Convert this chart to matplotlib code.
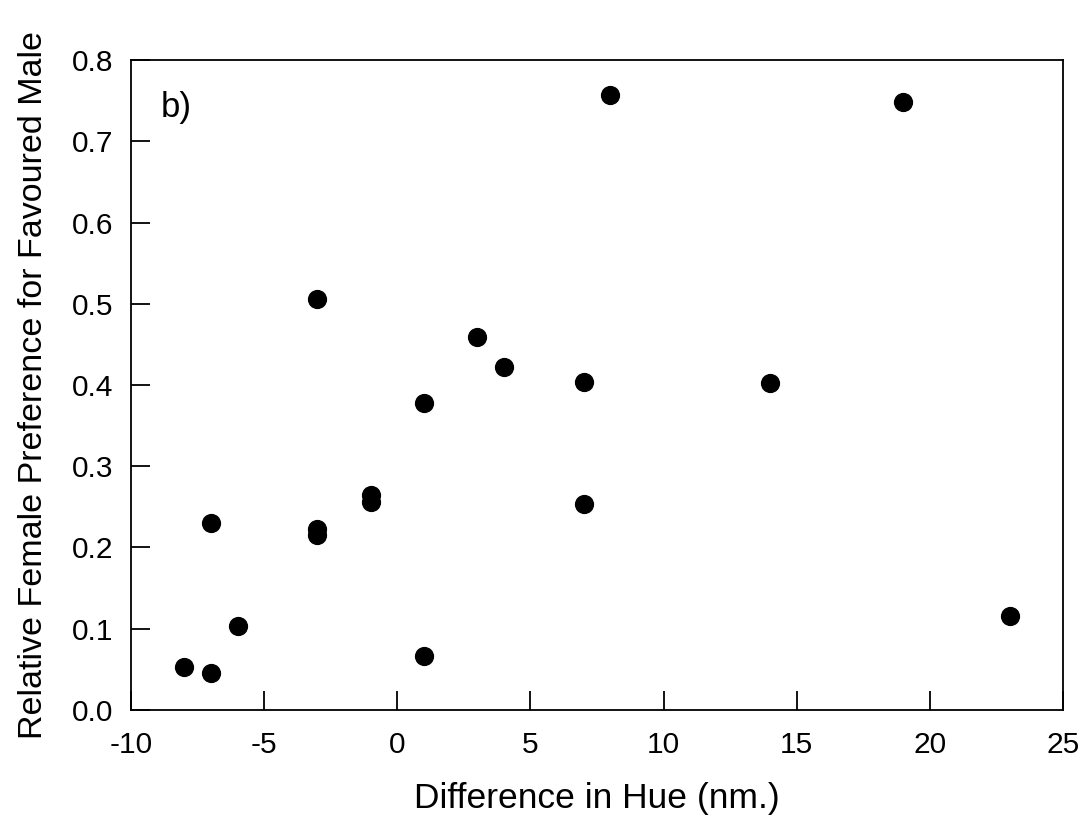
import matplotlib.pyplot as plt

plt.rcParams['font.family'] = ['Liberation Sans', 'DejaVu Sans']

# Difference in hue (nm.) and relative female preference
hue_diff = [-8, -7, -7, -6, -3, -3, -3, -1, -1, 1, 1, 3, 4, 7, 7, 8, 14, 19, 23]
preference = [0.053, 0.046, 0.230, 0.103, 0.506, 0.223, 0.215, 0.265, 0.256,
              0.378, 0.066, 0.459, 0.422, 0.404, 0.254, 0.757, 0.402, 0.748, 0.116]

x_ticks = [-10, -5, 0, 5, 10, 15, 20, 25]
y_ticks = [0.0, 0.1, 0.2, 0.3, 0.4, 0.5, 0.6, 0.7, 0.8]

fig = plt.figure(figsize=(10.88, 8.3), dpi=100)
ax = fig.add_axes([0.1204, 0.1446, 0.8566, 0.7831])

ax.scatter(hue_diff, preference, s=165, color='black', zorder=3)

ax.set_xlim(-10, 25)
ax.set_ylim(0, 0.8)
ax.set_xticks(x_ticks)
ax.set_yticks(y_ticks)
ax.set_xticklabels([str(t) for t in x_ticks])
ax.set_yticklabels([f"{t:.1f}" for t in y_ticks])
ax.tick_params(direction='in', length=14, width=1.3, labelsize=21.5)
ax.tick_params(axis='x', pad=15)
ax.tick_params(axis='y', pad=13)

for sp in ax.spines.values():
    sp.set_linewidth(1.3)

ax.set_xlabel("Difference in Hue (nm.)", fontsize=25.5, labelpad=17)
ax.set_ylabel("Relative Female Preference for Favoured Male", fontsize=24.5, labelpad=16)
ax.text(0.032, 0.952, "b)", transform=ax.transAxes, fontsize=25, va='top')

fig.savefig("out.png", dpi=100)
